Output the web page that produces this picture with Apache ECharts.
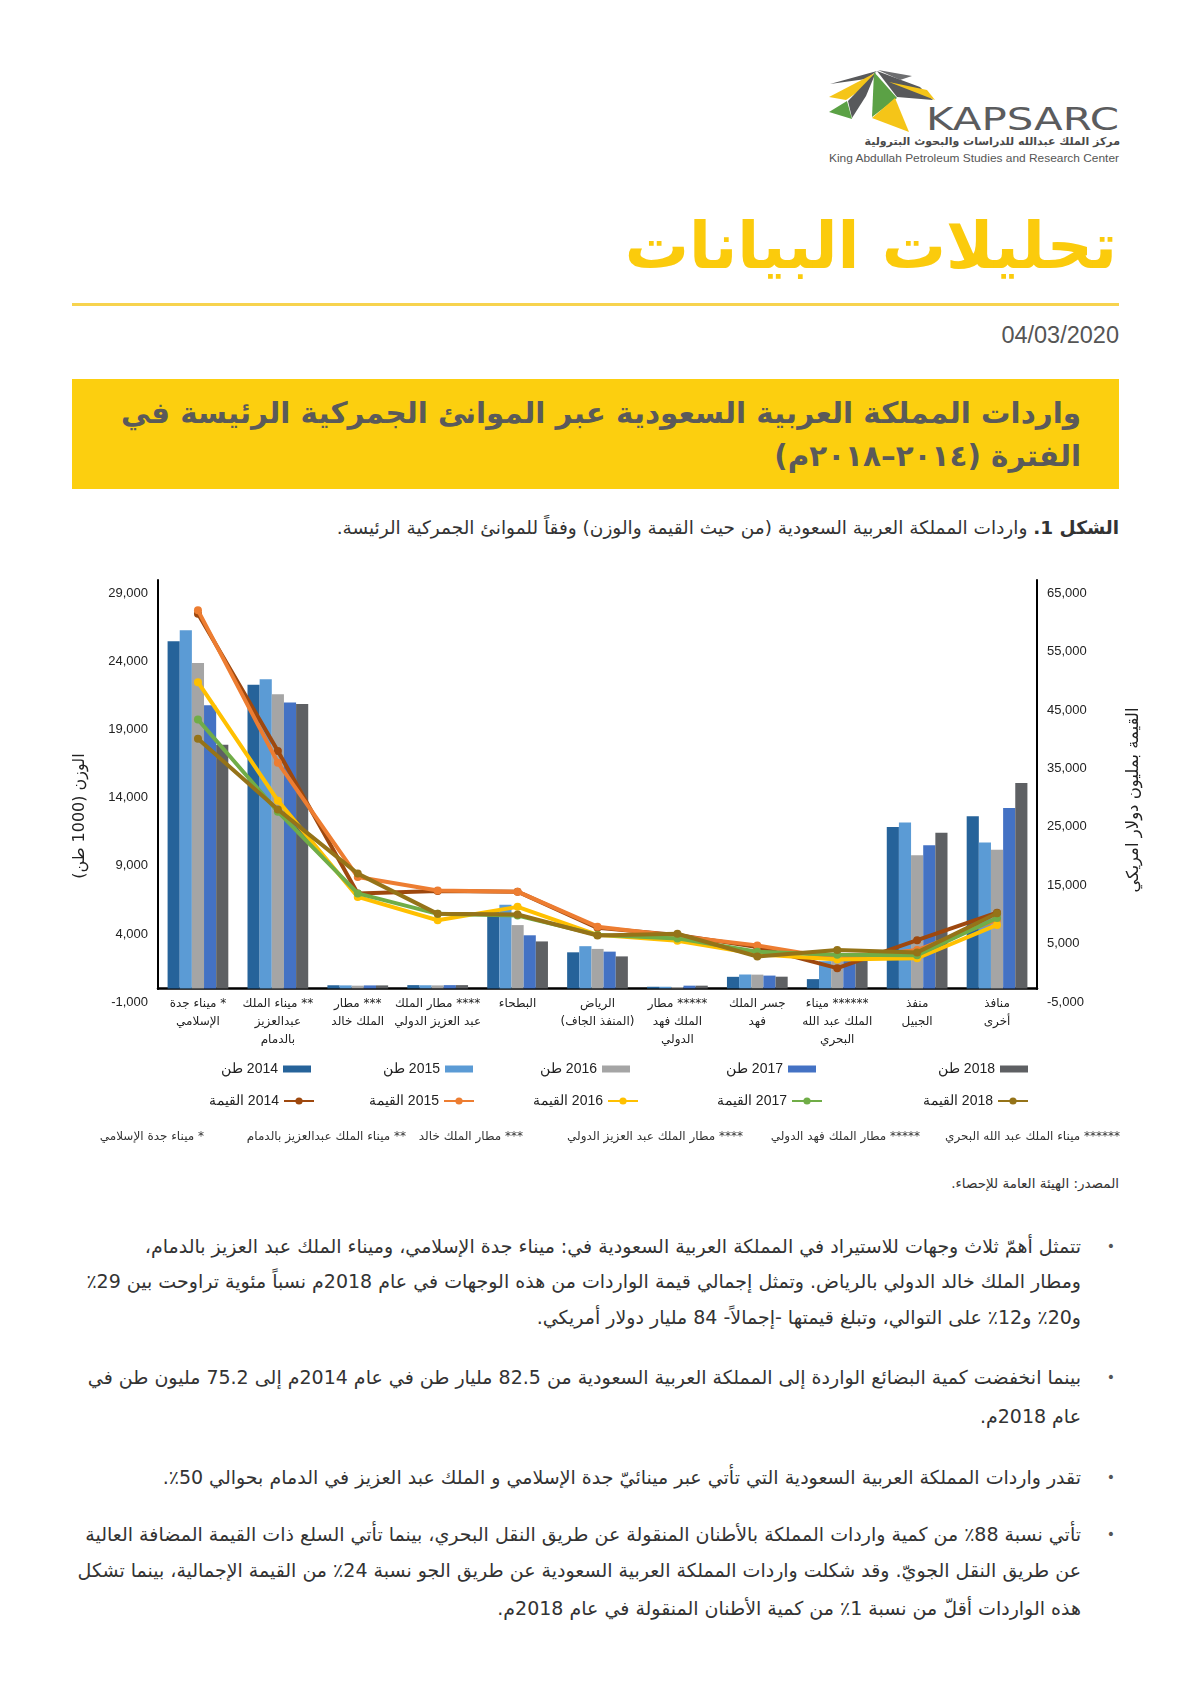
<!DOCTYPE html>
<html lang="ar">
<head>
<meta charset="utf-8">
<script src="https://cdn.jsdelivr.net/npm/echarts@6/dist/echarts.min.js"></script>
<style>
html,body{margin:0;padding:0;background:#fff;}
body{width:1191px;height:1684px;position:relative;overflow:hidden;font-family:"DejaVu Sans","Noto Sans",sans-serif;color:#333;}
.abs{position:absolute;white-space:nowrap;}
.rtl{direction:rtl;text-align:right;}
#title{right:74px;top:204px;font-size:64px;font-weight:bold;color:#FBCB0C;line-height:84px;}
#rule{left:72px;top:303px;width:1047px;height:3px;background:#F7D34E;}
#date{right:72px;top:321px;font-family:"Liberation Sans Narrow","Liberation Sans",sans-serif;font-size:23.5px;color:#555;line-height:28px;}
#box{left:72px;top:379px;width:1047px;height:110px;background:#FCCF0F;}
.boxline{right:110px;font-size:29.4px;font-weight:bold;color:#5a5a5a;line-height:42px;}
#caption{right:72px;top:514px;font-size:18.5px;color:#333;line-height:28px;}
#source{right:72px;top:1172px;font-size:13.5px;color:#333;line-height:22px;}
.pl{right:110px;font-size:19px;color:#333;line-height:30px;}
.dot{right:76px;font-size:14px;color:#555;line-height:30px;}
#chart{position:absolute;left:0;top:560px;width:1191px;height:600px;}
#logo{position:absolute;left:820px;top:60px;}
#logoar{right:71px;top:134px;font-size:11px;font-weight:bold;color:#4a4a4a;line-height:16px;}
</style>
</head>
<body>
<svg id="logo" width="310" height="110" viewBox="820 60 310 110">
  <polygon points="830,84 877,71 866,79" fill="#58595B"/>
  <polygon points="829,97 875,73 862,89 846,100" fill="#F5C518"/>
  <polygon points="876,72 866,96 852,118 848,101" fill="#58595B"/>
  <polygon points="829,112 847,101 852,119" fill="#5BA145"/>
  <polygon points="874,72 897,98 872,117" fill="#5BA145"/>
  <polygon points="872,118 895,98 909,132" fill="#F5C518"/>
  <polygon points="877,71 920,87 933,100 897,97" fill="#58595B"/>
  <polygon points="889,82 927,90 935,100" fill="#F5C518"/>
  <polygon points="878,70 912,76 900,80" fill="#6d6e70"/>
  <text x="926" y="130" font-family="'DejaVu Sans','Liberation Sans',sans-serif" font-size="32" fill="#5B5C5E" textLength="193" lengthAdjust="spacingAndGlyphs">KAPSARC</text>
  <text x="829" y="162" font-family="'Liberation Sans','DejaVu Sans',sans-serif" font-size="11" fill="#555" textLength="290" lengthAdjust="spacingAndGlyphs">King Abdullah Petroleum Studies and Research Center</text>
</svg>
<div id="logoar" class="abs rtl">مركز الملك عبدالله للدراسات والبحوث البترولية</div>

<div id="title" class="abs rtl">تحليلات البيانات</div>
<div id="rule" class="abs"></div>
<div id="date" class="abs">04/03/2020</div>
<div id="box" class="abs"></div>
<div class="abs rtl boxline" style="top:392px;">واردات المملكة العربية السعودية عبر الموانئ الجمركية الرئيسة في</div>
<div class="abs rtl boxline" style="top:435px;">الفترة (٢٠١٤–٢٠١٨م)</div>
<div id="caption" class="abs rtl"><b>الشكل 1.</b> واردات المملكة العربية السعودية (من حيث القيمة والوزن) وفقاً للموانئ الجمركية الرئيسة.</div>

<div id="chart"></div>

<div id="source" class="abs rtl">المصدر: الهيئة العامة للإحصاء.</div>

<div class="abs dot" style="top:1231px;">•</div>
<div class="abs rtl pl" style="top:1231px;">تتمثل أهمّ ثلاث وجهات للاستيراد في المملكة العربية السعودية في: ميناء جدة الإسلامي، وميناء الملك عبد العزيز بالدمام،</div>
<div class="abs rtl pl" style="top:1266px;">ومطار الملك خالد الدولي بالرياض. وتمثل إجمالي قيمة الواردات من هذه الوجهات في عام 2018م نسباً مئوية تراوحت بين 29٪</div>
<div class="abs rtl pl" style="top:1302px;">و20٪ و12٪ على التوالي، وتبلغ قيمتها -إجمالاً- 84 مليار دولار أمريكي.</div>

<div class="abs dot" style="top:1362px;">•</div>
<div class="abs rtl pl" style="top:1362px;">بينما انخفضت كمية البضائع الواردة إلى المملكة العربية السعودية من 82.5 مليار طن في عام 2014م إلى 75.2 مليون طن في</div>
<div class="abs rtl pl" style="top:1401px;">عام 2018م.</div>

<div class="abs dot" style="top:1462px;">•</div>
<div class="abs rtl pl" style="top:1462px;">تقدر واردات المملكة العربية السعودية التي تأتي عبر مينائيّ جدة الإسلامي و الملك عبد العزيز في الدمام بحوالي 50٪.</div>

<div class="abs dot" style="top:1519px;">•</div>
<div class="abs rtl pl" style="top:1519px;">تأتي نسبة 88٪ من كمية واردات المملكة بالأطنان المنقولة عن طريق النقل البحري، بينما تأتي السلع ذات القيمة المضافة العالية</div>
<div class="abs rtl pl" style="top:1555px;">عن طريق النقل الجويّ. وقد شكلت واردات المملكة العربية السعودية عن طريق الجو نسبة 24٪ من القيمة الإجمالية، بينما تشكل</div>
<div class="abs rtl pl" style="top:1593px;">هذه الواردات أقلّ من نسبة 1٪ من كمية الأطنان المنقولة في عام 2018م.</div>

<script>
// ---------- DATA ----------
const categories = [
  "* ميناء جدة\nالإسلامي",
  "** ميناء الملك\nعبدالعزيز\nبالدمام",
  "*** مطار\nالملك خالد",
  "**** مطار الملك\nعبد العزيز الدولي",
  "البطحاء",
  "الرياض\n(المنفذ الجاف)",
  "***** مطار\nالملك فهد\nالدولي",
  "جسر الملك\nفهد",
  "****** ميناء\nالملك عبد الله\nالبحري",
  "منفذ\nالجبيل",
  "منافذ\nأخرى"
];
// weight, thousand tonnes (left axis)
const tons2014 = [25500, 22300, 230, 240, 5600, 2650, 120, 850, 680, 11850, 12640];
const tons2015 = [26300, 22700, 220, 230, 6150, 3100, 120, 1020, 2000, 12180, 10720];
const tons2016 = [23900, 21600, 200, 220, 4650, 2900, 100, 1010, 2100, 9780, 10180];
const tons2017 = [20800, 21000, 220, 240, 3900, 2700, 200, 940, 2200, 10520, 13260];
const tons2018 = [17900, 20900, 220, 240, 3450, 2350, 200, 860, 2500, 11430, 15080];
// value, million USD (right axis)
const value2014 = [61500, 38000, 13600, 14000, 13900, 7700, 6500, 4400, 800, 5600, 10300];
const value2015 = [62100, 36000, 16400, 14100, 13900, 7900, 6300, 4700, 2400, 3900, 9100];
const value2016 = [49800, 29500, 13000, 9000, 11300, 6500, 5500, 3200, 2300, 2500, 8200];
const value2017 = [43400, 27600, 13600, 10100, 9800, 6500, 5900, 3600, 3100, 3000, 9400];
const value2018 = [40100, 28000, 17000, 10100, 10000, 6400, 6700, 2800, 3900, 3500, 10200];
const barNames = ["2014 طن", "2015 طن", "2016 طن", "2017 طن", "2018 طن"];
const lineNames = ["2014 القيمة", "2015 القيمة", "2016 القيمة", "2017 القيمة", "2018 القيمة"];
const leftAxisName = "الوزن (1000 طن)";
const rightAxisName = "القيمة بمليون دولار امريكي";
const footnotes = [
  "****** ميناء الملك عبد الله البحري",
  "***** مطار الملك فهد الدولي",
  "**** مطار الملك عبد العزيز الدولي",
  "*** مطار الملك خالد",
  "** ميناء الملك عبدالعزيز بالدمام",
  "* ميناء جدة الإسلامي"
];

// ---------- STYLE ----------
const barColors = ["#26639A", "#5B9BD5", "#A5A5A5", "#4472C4", "#5E6063"];
const lineColors = ["#9E480E", "#ED7D31", "#FFC000", "#70AD47", "#957318"];
const tonsData = [tons2014, tons2015, tons2016, tons2017, tons2018];
const valueData = [value2014, value2015, value2016, value2017, value2018];
const arFont = '"DejaVu Sans", sans-serif';
const numFont = '"Liberation Sans", Arial, sans-serif';
const rtl = s => s.split('\n').map(l => '\u200F' + l + '\u200F').join('\n');
const fmt = v => Math.round(v).toLocaleString('en-US');

const series = [];
barNames.forEach((n, i) => series.push({
  type: 'bar', name: n, xAxisIndex: 0, yAxisIndex: 0, data: tonsData[i],
  barGap: '0%', barCategoryGap: '24%',
  itemStyle: { color: barColors[i] }, z: 2
}));
lineNames.forEach((n, i) => series.push({
  type: 'line', name: n, xAxisIndex: 0, yAxisIndex: 1, data: valueData[i],
  symbol: 'circle', symbolSize: 8, showSymbol: true,
  lineStyle: { width: 4, color: lineColors[i] },
  itemStyle: { color: lineColors[i] }, z: 3 + i
}));

const barLegendRight = [880, 718, 561, 375, 163];
const lineLegendRight = [876, 716, 552, 368, 162];
const legends = [];
barNames.forEach((n, i) => legends.push({
  data: [n], right: barLegendRight[i], top: 502, align: 'right', padding: 0,
  itemWidth: 28, itemHeight: 7, icon: 'rect', selectedMode: false,
  formatter: name => rtl(name),
  textStyle: { fontSize: 14, color: '#222', fontFamily: numFont }
}));
lineNames.forEach((n, i) => legends.push({
  data: [n], right: lineLegendRight[i], top: 534, align: 'right', padding: 0,
  itemWidth: 30, itemHeight: 9, selectedMode: false,
  formatter: name => rtl(name),
  textStyle: { fontSize: 14, color: '#222', fontFamily: numFont }
}));

const footRight = [71, 271, 448, 668, 785, 987];
const graphics = footnotes.map((t, i) => ({
  type: 'text', right: footRight[i], top: 571,
  style: { text: rtl(t), font: '12px ' + arFont, fill: '#333' }
}));

const axisBlack = { show: true, lineStyle: { color: '#000', width: 2 } };

const chart = echarts.init(document.getElementById('chart'));
chart.setOption({
  animation: false,
  textStyle: { fontFamily: arFont },
  grid: [
    { left: 158, right: 154, top: 20, bottom: 158, containLabel: false, outerBoundsMode: 'none' },
    // frame grid: vertical axis lines stop at the zero baseline
    { left: 158, right: 154, top: 20, bottom: 171, containLabel: false, outerBoundsMode: 'none' }
  ],
  legend: legends,
  xAxis: [
    {
      type: 'category', data: categories, gridIndex: 0,
      axisLine: { show: true, onZero: true, onZeroAxisIndex: 0, lineStyle: { color: '#000', width: 2.5 } },
      axisTick: { show: false },
      axisLabel: { interval: 0, margin: -7, fontSize: 12, lineHeight: 18, color: '#222', fontFamily: arFont,
        formatter: v => rtl(v) }
    },
    { type: 'category', data: categories, gridIndex: 1, show: false }
  ],
  yAxis: [
    {
      type: 'value', gridIndex: 0, position: 'left', min: -1000, max: 30000, interval: 5000,
      name: rtl(leftAxisName), nameLocation: 'middle', nameGap: 70, nameRotate: 90,
      nameTextStyle: { fontSize: 16, color: '#222', fontFamily: arFont, padding: [0, 50, 0, 0] },
      axisLine: { show: false },
      axisTick: { show: false }, splitLine: { show: false },
      axisLabel: { formatter: fmt, showMaxLabel: false, margin: 10, fontSize: 13, color: '#222', fontFamily: numFont }
    },
    {
      type: 'value', gridIndex: 0, position: 'right', min: -5000, max: 67300, interval: 10000,
      name: rtl(rightAxisName), nameLocation: 'middle', nameGap: 88, nameRotate: 90,
      nameTextStyle: { fontSize: 16.5, color: '#222', fontFamily: arFont, padding: [0, 18, 0, 0] },
      axisLine: { show: false },
      axisTick: { show: false }, splitLine: { show: false },
      axisLabel: { formatter: fmt, showMaxLabel: false, margin: 10, fontSize: 13, color: '#222', fontFamily: numFont }
    },
    {
      type: 'value', gridIndex: 1, position: 'left', min: 0, max: 30000,
      axisLine: axisBlack, axisTick: { show: false }, splitLine: { show: false }, axisLabel: { show: false }
    },
    {
      type: 'value', gridIndex: 1, position: 'right', min: 0, max: 67300,
      axisLine: axisBlack, axisTick: { show: false }, splitLine: { show: false }, axisLabel: { show: false }
    }
  ],
  graphic: graphics,
  series: series
});
</script>
</body>
</html>
